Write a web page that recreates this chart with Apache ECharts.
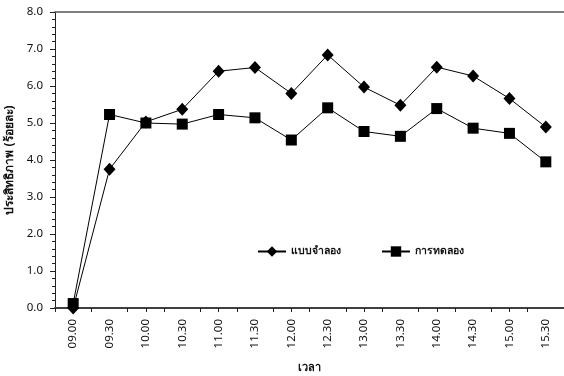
<!DOCTYPE html>
<html>
<head>
<meta charset="utf-8">
<script src="https://cdn.jsdelivr.net/npm/echarts@6/dist/echarts.min.js"></script>
<style>
  html, body { margin: 0; padding: 0; background: #fff; }
  #chart { width: 564px; height: 376px; }
</style>
</head>
<body>
<div id="chart"></div>
<script>
// Time of day (half-hour steps)
const times = ['09.00', '09.30', '10.00', '10.30', '11.00', '11.30', '12.00',
               '12.30', '13.00', '13.30', '14.00', '14.30', '15.00', '15.30'];

// Efficiency (percent)
const modelValues = [0.0, 3.75, 5.03, 5.37, 6.4, 6.5, 5.8, 6.84, 5.97, 5.48, 6.51, 6.27, 5.66, 4.89];
const experimentValues = [0.12, 5.23, 5.0, 4.97, 5.23, 5.14, 4.54, 5.41, 4.77, 4.64, 5.39, 4.86, 4.72, 3.95];

const seriesNames = ['แบบจำลอง', 'การทดลอง'];
const yTicks = [0, 1, 2, 3, 4, 5, 6, 7, 8];

const font = '"Noto Sans", "DejaVu Sans", sans-serif';
const chart = echarts.init(document.getElementById('chart'), null, { renderer: 'canvas' });

chart.setOption({
  animation: false,
  backgroundColor: '#ffffff',
  grid: { left: 55, right: 0, top: 12, bottom: 68, containLabel: false, outerBoundsMode: 'none' },
  legend: {
    left: 252, top: 241,
    itemWidth: 28, itemHeight: 13, itemGap: 40,
    textStyle: { fontFamily: font, fontSize: 10.5, fontWeight: 'bold', color: '#111' },
    data: seriesNames
  },
  xAxis: [
    {
      type: 'category',
      data: times,
      boundaryGap: true,
      name: 'เวลา',
      nameLocation: 'middle',
      nameGap: 54,
      nameTextStyle: { fontFamily: font, fontSize: 11, fontWeight: 'bold', color: '#111' },
      axisLine: { lineStyle: { color: '#404040', width: 2 } },
      axisTick: { show: true, inside: false, length: 4, lineStyle: { color: '#222', width: 1 } },
      axisLabel: { rotate: 90, fontFamily: font, fontSize: 11.5, color: '#111', margin: 11, interval: 0 },
      splitLine: { show: false }
    },
    {
      // tick marks under each time label
      type: 'category',
      data: times,
      position: 'bottom',
      gridIndex: 0,
      axisLine: { show: false },
      axisTick: { show: true, alignWithLabel: true, length: 4, lineStyle: { color: '#222', width: 1 } },
      axisLabel: { show: false },
      splitLine: { show: false }
    },
    {
      // top frame line
      type: 'category',
      data: times,
      position: 'top',
      axisLine: { lineStyle: { color: '#555', width: 1.5 } },
      axisTick: { show: false },
      axisLabel: { show: false },
      splitLine: { show: false }
    }
  ],
  yAxis: {
    type: 'value',
    min: yTicks[0],
    max: yTicks[yTicks.length - 1],
    interval: 1,
    name: 'ประสิทธิภาพ (ร้อยละ)',
    nameLocation: 'middle',
    nameGap: 34,
    nameTextStyle: { fontFamily: font, fontSize: 12, fontWeight: 'bold', color: '#111' },
    axisLine: { show: true, lineStyle: { color: '#222', width: 1 } },
    axisTick: { show: true, inside: false, length: 5, lineStyle: { color: '#222' } },
    minorTick: { show: true, splitNumber: 5, length: 3, lineStyle: { color: '#222' } },
    axisLabel: {
      fontFamily: font, fontSize: 11.5, color: '#111', margin: 12,
      formatter: v => v.toFixed(1)
    },
    splitLine: { show: false }
  },
  series: [
    {
      name: seriesNames[0],
      type: 'line',
      data: modelValues,
      symbol: 'diamond',
      symbolSize: [12, 13],
      lineStyle: { color: '#000', width: 1 },
      itemStyle: { color: '#000' },
      z: 2
    },
    {
      name: seriesNames[1],
      type: 'line',
      data: experimentValues,
      symbol: 'rect',
      symbolSize: 11,
      lineStyle: { color: '#000', width: 1 },
      itemStyle: { color: '#000' },
      z: 3
    }
  ]
});
</script>
</body>
</html>
